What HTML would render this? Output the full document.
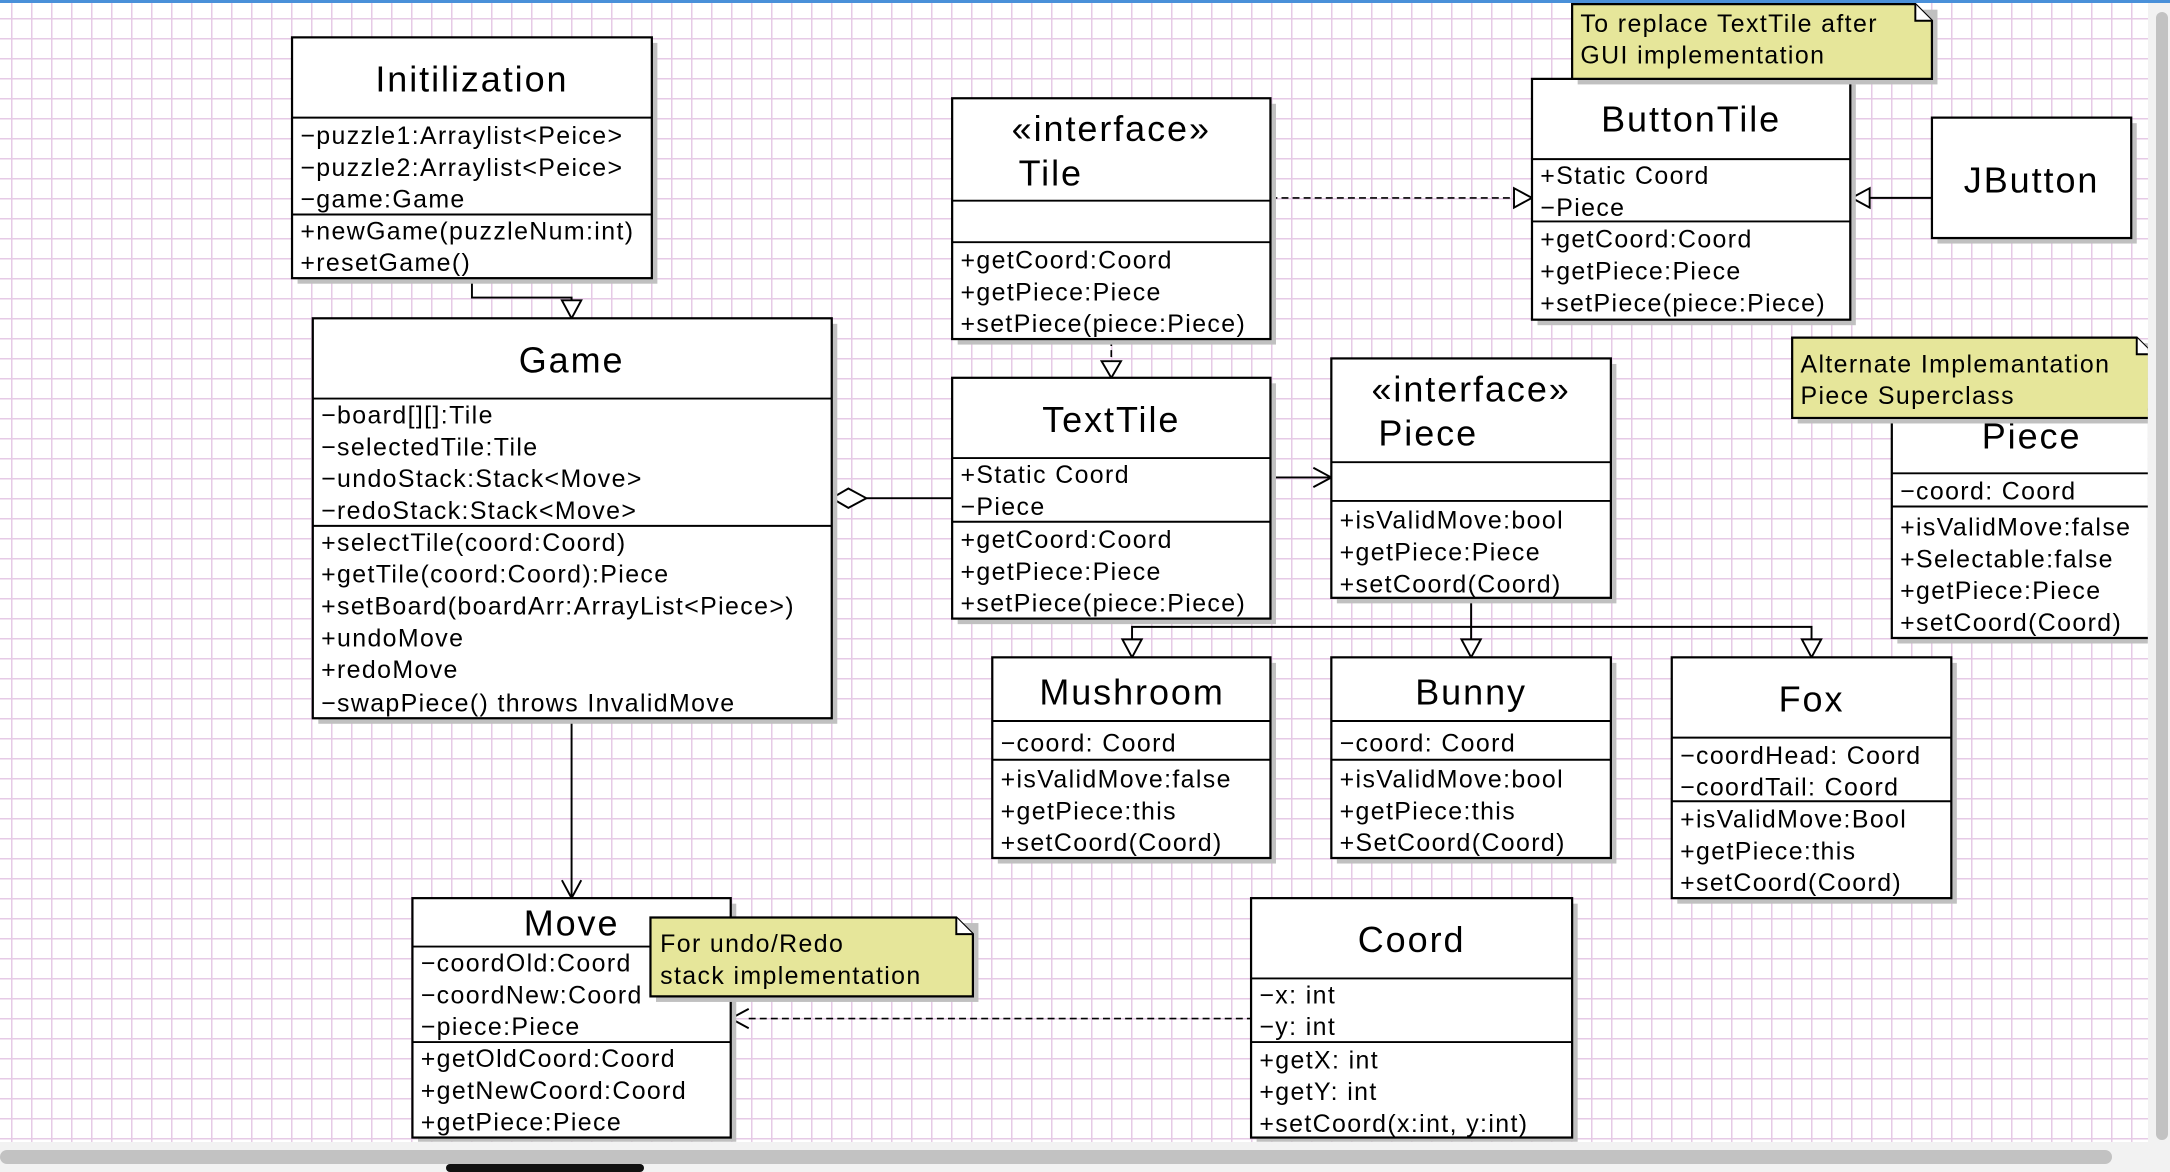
<!DOCTYPE html>
<html><head><meta charset="utf-8"><style>
html,body{margin:0;padding:0;width:2170px;height:1168px;overflow:hidden;background:#f2f2f2}
#grid{position:absolute;left:0;top:3px;width:2148px;height:1139px;background-color:#fff;
background-image:linear-gradient(to right,#e6cae6 1.5px,transparent 1.5px),linear-gradient(to bottom,#e6cae6 1.5px,transparent 1.5px);
background-size:20px 20px;background-position:11px 15px}
#top{position:absolute;left:0;top:0;width:2170px;height:3px;background:#4a90d9}
#vs{position:absolute;left:2156px;top:12px;width:12px;height:1128px;background:#c2c2c2;border-radius:6px}
#hs{position:absolute;left:0;top:1150px;width:2112px;height:14px;background:#c2c2c2;border-radius:7px}
#knob{position:absolute;left:446px;top:1164px;width:198px;height:8px;background:#111;border-radius:5px}
svg{position:absolute;left:0;top:0}
text{font-family:"Liberation Sans",sans-serif;fill:#000}
.m{font-size:18px;letter-spacing:1px}.t{font-size:26px;letter-spacing:1.4px}
.b{fill:#fff;stroke:#000;stroke-width:1.6}
.s{fill:#c0c0c0}
.n{fill:#e6e69a;stroke:#000;stroke-width:1.6}
.l{stroke:#000;stroke-width:1.4;fill:none}
.d{stroke:#000;stroke-width:1.2;fill:none;stroke-dasharray:5 3}
.h{fill:#fff;stroke:#000;stroke-width:1.4}
</style></head><body>
<div id="grid"></div><div id="top"></div><div id="vs"></div><div id="hs"></div><div id="knob"></div>
<svg width="2170" height="1168" viewBox="0 0 1568 844">
<defs><clipPath id="c"><rect x="0" y="2" width="1552" height="823"/></clipPath></defs>
<g clip-path="url(#c)">
<polyline class="l" points="341,201 341,215 413,215 413,230"/>
<polygon class="h" points="406,217 420,217 413,230"/>
<line class="l" x1="626" y1="360" x2="688" y2="360"/>
<polygon class="h" points="601,360 613,353 626,360 613,367"/>
<line class="l" x1="413" y1="519" x2="413" y2="649"/>
<polyline class="l" points="406,636 413,649 420,636"/>
<line class="d" x1="803" y1="245" x2="803" y2="261"/>
<polygon class="h" points="796,261 810,261 803,273"/>
<line class="d" x1="918" y1="143" x2="1094" y2="143"/>
<polygon class="h" points="1094,136 1094,150 1107,143"/>
<line class="l" x1="1351" y1="143" x2="1396" y2="143"/>
<polygon class="h" points="1351,136 1351,150 1338,143"/>
<line class="l" x1="918" y1="345" x2="962" y2="345"/>
<polyline class="l" points="949,338 962,345 949,352"/>
<polyline class="l" points="818,463 818,453 1309,453 1309,463"/>
<line class="l" x1="1063" y1="432" x2="1063" y2="463"/>
<polygon class="h" points="811,462 825,462 818,475"/>
<polygon class="h" points="1056,462 1070,462 1063,475"/>
<polygon class="h" points="1302,462 1316,462 1309,475"/>
<line class="d" x1="541" y1="736" x2="904" y2="736"/>
<polyline class="l" points="541,729 528,736 541,743"/>

<rect class="s" x="215" y="31" width="260" height="174"/>
<rect class="b" x="211" y="27" width="260" height="174"/>
<line class="l" x1="211" y1="85" x2="471" y2="85"/><line class="l" x1="211" y1="155" x2="471" y2="155"/>
<text class="t" x="341" y="66" text-anchor="middle">Initilization</text>
<text class="m" x="217" y="104">−puzzle1:Arraylist&lt;Peice&gt;</text>
<text class="m" x="217" y="127">−puzzle2:Arraylist&lt;Peice&gt;</text>
<text class="m" x="217" y="150">−game:Game</text>
<text class="m" x="217" y="173">+newGame(puzzleNum:int)</text>
<text class="m" x="217" y="196">+resetGame()</text>

<rect class="s" x="230" y="234" width="375" height="289"/>
<rect class="b" x="226" y="230" width="375" height="289"/>
<line class="l" x1="226" y1="288" x2="601" y2="288"/><line class="l" x1="226" y1="380" x2="601" y2="380"/>
<text class="t" x="413" y="269" text-anchor="middle">Game</text>
<text class="m" x="232" y="306">−board[][]:Tile</text>
<text class="m" x="232" y="329">−selectedTile:Tile</text>
<text class="m" x="232" y="352">−undoStack:Stack&lt;Move&gt;</text>
<text class="m" x="232" y="375">−redoStack:Stack&lt;Move&gt;</text>
<text class="m" x="232" y="398">+selectTile(coord:Coord)</text>
<text class="m" x="232" y="421">+getTile(coord:Coord):Piece</text>
<text class="m" x="232" y="444">+setBoard(boardArr:ArrayList&lt;Piece&gt;)</text>
<text class="m" x="232" y="467">+undoMove</text>
<text class="m" x="232" y="490">+redoMove</text>
<text class="m" x="232" y="514">−swapPiece() throws InvalidMove</text>

<rect class="s" x="692" y="75" width="230" height="174"/>
<rect class="b" x="688" y="71" width="230" height="174"/>
<line class="l" x1="688" y1="145" x2="918" y2="145"/><line class="l" x1="688" y1="175" x2="918" y2="175"/>
<text class="t" x="803" y="102" text-anchor="middle">«interface»</text>
<text class="t" x="736" y="134">Tile</text>
<text class="m" x="694" y="194">+getCoord:Coord</text>
<text class="m" x="694" y="217">+getPiece:Piece</text>
<text class="m" x="694" y="240">+setPiece(piece:Piece)</text>

<rect class="s" x="692" y="277" width="230" height="174"/>
<rect class="b" x="688" y="273" width="230" height="174"/>
<line class="l" x1="688" y1="331" x2="918" y2="331"/><line class="l" x1="688" y1="377" x2="918" y2="377"/>
<text class="t" x="803" y="312" text-anchor="middle">TextTile</text>
<text class="m" x="694" y="349">+Static Coord</text>
<text class="m" x="694" y="372">−Piece</text>
<text class="m" x="694" y="396">+getCoord:Coord</text>
<text class="m" x="694" y="419">+getPiece:Piece</text>
<text class="m" x="694" y="442">+setPiece(piece:Piece)</text>

<rect class="s" x="966" y="263" width="202" height="173"/>
<rect class="b" x="962" y="259" width="202" height="173"/>
<line class="l" x1="962" y1="334" x2="1164" y2="334"/><line class="l" x1="962" y1="362" x2="1164" y2="362"/>
<text class="t" x="1063" y="290" text-anchor="middle">«interface»</text>
<text class="t" x="996" y="322">Piece</text>
<text class="m" x="968" y="382">+isValidMove:bool</text>
<text class="m" x="968" y="405">+getPiece:Piece</text>
<text class="m" x="968" y="428">+setCoord(Coord)</text>

<rect class="s" x="1111" y="61" width="230" height="174"/>
<rect class="b" x="1107" y="57" width="230" height="174"/>
<line class="l" x1="1107" y1="115" x2="1337" y2="115"/><line class="l" x1="1107" y1="160" x2="1337" y2="160"/>
<text class="t" x="1222" y="95" text-anchor="middle">ButtonTile</text>
<text class="m" x="1113" y="133">+Static Coord</text>
<text class="m" x="1113" y="156">−Piece</text>
<text class="m" x="1113" y="179">+getCoord:Coord</text>
<text class="m" x="1113" y="202">+getPiece:Piece</text>
<text class="m" x="1113" y="225">+setPiece(piece:Piece)</text>

<rect class="s" x="1140" y="7" width="260" height="54"/>
<path class="n" d="M1136,3 H1384 L1396,15 V57 H1136 Z"/>
<path class="l" d="M1384,3 V15 H1396" style="fill:#fff"/>
<text class="m" x="1142" y="23">To replace TextTile after</text>
<text class="m" x="1142" y="46">GUI implementation</text>

<rect class="s" x="1400" y="89" width="144" height="87"/>
<rect class="b" x="1396" y="85" width="144" height="87"/>
<text class="t" x="1468" y="139" text-anchor="middle">JButton</text>

<rect class="s" x="1371" y="300" width="190" height="165"/>
<rect class="b" x="1367" y="296" width="190" height="165"/>
<line class="l" x1="1367" y1="342" x2="1557" y2="342"/><line class="l" x1="1367" y1="366" x2="1557" y2="366"/>
<text class="t" x="1468" y="324" text-anchor="middle">Piece</text>
<text class="m" x="1373" y="361">−coord: Coord</text>
<text class="m" x="1373" y="387">+isValidMove:false</text>
<text class="m" x="1373" y="410">+Selectable:false</text>
<text class="m" x="1373" y="433">+getPiece:Piece</text>
<text class="m" x="1373" y="456">+setCoord(Coord)</text>

<rect class="s" x="1299" y="248" width="257" height="58"/>
<path class="n" d="M1295,244 H1544 L1556,256 V302 H1295 Z"/>
<path class="l" d="M1544,244 V256 H1556" style="fill:#fff"/>
<text class="m" x="1301" y="269">Alternate Implemantation</text>
<text class="m" x="1301" y="292">Piece Superclass</text>

<rect class="s" x="721" y="479" width="201" height="145"/>
<rect class="b" x="717" y="475" width="201" height="145"/>
<line class="l" x1="717" y1="521" x2="918" y2="521"/><line class="l" x1="717" y1="549" x2="918" y2="549"/>
<text class="t" x="818" y="509" text-anchor="middle">Mushroom</text>
<text class="m" x="723" y="543">−coord: Coord</text>
<text class="m" x="723" y="569">+isValidMove:false</text>
<text class="m" x="723" y="592">+getPiece:this</text>
<text class="m" x="723" y="615">+setCoord(Coord)</text>

<rect class="s" x="966" y="479" width="202" height="145"/>
<rect class="b" x="962" y="475" width="202" height="145"/>
<line class="l" x1="962" y1="521" x2="1164" y2="521"/><line class="l" x1="962" y1="549" x2="1164" y2="549"/>
<text class="t" x="1063" y="509" text-anchor="middle">Bunny</text>
<text class="m" x="968" y="543">−coord: Coord</text>
<text class="m" x="968" y="569">+isValidMove:bool</text>
<text class="m" x="968" y="592">+getPiece:this</text>
<text class="m" x="968" y="615">+SetCoord(Coord)</text>

<rect class="s" x="1212" y="479" width="202" height="174"/>
<rect class="b" x="1208" y="475" width="202" height="174"/>
<line class="l" x1="1208" y1="533" x2="1410" y2="533"/><line class="l" x1="1208" y1="579" x2="1410" y2="579"/>
<text class="t" x="1309" y="514" text-anchor="middle">Fox</text>
<text class="m" x="1214" y="552">−coordHead: Coord</text>
<text class="m" x="1214" y="575">−coordTail: Coord</text>
<text class="m" x="1214" y="598">+isValidMove:Bool</text>
<text class="m" x="1214" y="621">+getPiece:this</text>
<text class="m" x="1214" y="644">+setCoord(Coord)</text>

<rect class="s" x="302" y="653" width="230" height="173"/>
<rect class="b" x="298" y="649" width="230" height="173"/>
<line class="l" x1="298" y1="684" x2="528" y2="684"/><line class="l" x1="298" y1="753" x2="528" y2="753"/>
<text class="t" x="413" y="676" text-anchor="middle">Move</text>
<text class="m" x="304" y="702">−coordOld:Coord</text>
<text class="m" x="304" y="725">−coordNew:Coord</text>
<text class="m" x="304" y="748">−piece:Piece</text>
<text class="m" x="304" y="771">+getOldCoord:Coord</text>
<text class="m" x="304" y="794">+getNewCoord:Coord</text>
<text class="m" x="304" y="817">+getPiece:Piece</text>

<rect class="s" x="474" y="667" width="233" height="57"/>
<path class="n" d="M470,663 H691 L703,675 V720 H470 Z"/>
<path class="l" d="M691,663 V675 H703" style="fill:#fff"/>
<text class="m" x="477" y="688">For undo/Redo</text>
<text class="m" x="477" y="711">stack implementation</text>

<rect class="s" x="908" y="653" width="232" height="173"/>
<rect class="b" x="904" y="649" width="232" height="173"/>
<line class="l" x1="904" y1="707" x2="1136" y2="707"/><line class="l" x1="904" y1="753" x2="1136" y2="753"/>
<text class="t" x="1020" y="688" text-anchor="middle">Coord</text>
<text class="m" x="910" y="725">−x: int</text>
<text class="m" x="910" y="748">−y: int</text>
<text class="m" x="910" y="772">+getX: int</text>
<text class="m" x="910" y="795">+getY: int</text>
<text class="m" x="910" y="818">+setCoord(x:int, y:int)</text>
</g>
</svg>
</body></html>
